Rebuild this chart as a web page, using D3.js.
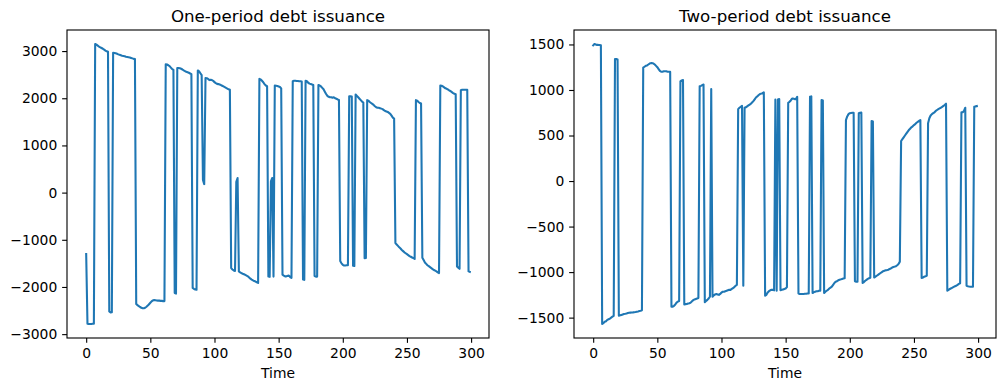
<!DOCTYPE html>
<html><head><meta charset="utf-8">
<script src="https://cdn.jsdelivr.net/npm/d3@7"></script>
<style>
body{margin:0;background:#fff}
svg{display:block}
text{font-family:"DejaVu Sans",sans-serif;fill:#000}
</style>
</head><body>
<svg id="chart" width="1006" height="391"></svg>
<script>
const oneTitle = "One-period debt issuance";
const twoTitle = "Two-period debt issuance";
const xLabel = "Time";

const oneperiod = [
-1300,
-2780,-2785,-2785,-2785,-2780,-2780,
3150,3135,3115,3095,3080,3065,3050,3030,3010,2995,2985,
-2520,-2540,-2535,
2965,2960,2955,2945,2930,2920,2910,2900,2895,2890,2880,2875,2870,2865,2855,2845,2835,2830,
-2360,-2385,-2405,-2425,-2440,-2450,-2450,-2440,-2420,-2395,-2365,-2335,-2305,-2285,-2275,-2280,-2285,-2290,-2290,-2295,-2295,-2300,-2300,
2720,2715,2700,2680,2650,2620,2600,
-2130,-2140,
2640,2640,2635,2625,2610,2590,2575,2560,2550,2540,2525,2510,
-2020,-2040,-2055,-2060,
2590,2570,2530,2490,
270,180,
2430,2425,2410,2385,2390,2385,2370,2340,2320,2305,2300,2290,2280,2265,2250,2235,2220,2205,2190,2180,
-1600,-1630,-1650,-1660,
230,310,
-1670,-1690,-1705,-1720,-1730,-1745,-1760,-1775,-1800,-1825,-1845,-1860,-1875,-1885,-1900,-1915,
2410,2400,2370,2340,2300,2270,2255,
-1780,-1785,
240,310,
-1780,
2270,2265,2260,2250,2240,2210,
-1740,-1760,-1775,-1775,-1765,-1760,-1790,-1810,
2360,2370,2370,2365,2365,2360,2360,2355,
-1840,-1850,
2370,2360,2330,2310,2300,2290,2280,
-1770,-1780,-1780,
2280,2270,2250,2220,2190,2140,2090,2050,2030,2020,2020,2010,2020,2000,1990,1975,1965,
-1450,-1500,-1530,-1545,-1545,-1540,-1540,
2040,2040,2035,
-1550,-1555,
2080,2050,2020,1990,1960,1930,1910,
-1390,-1385,
1960,1950,1920,1900,1880,1860,1830,1810,1800,1800,1790,1780,1770,1750,1730,1720,1710,1690,1670,1630,1590,1570,
-1070,-1100,-1130,-1160,-1185,-1215,-1240,-1265,-1285,-1305,-1325,-1345,-1360,-1375,-1390,-1405,
1960,1950,1920,1900,1890,
-1380,-1430,-1480,-1510,-1540,-1560,-1580,-1600,-1620,-1640,-1655,-1670,-1690,-1705,
2270,2265,2250,2230,2210,2200,2185,2165,2150,2130,2110,2095,2085,
-1565,-1590,-1615,
2170,2180,2180,2180,2180,2180,
-1670,-1680
];

const twoperiod = [
1490,1505,1500,1495,1495,1493,1490,
-1570,-1560,-1545,-1540,-1525,-1518,-1510,-1500,-1490,-1480,
1340,1340,1335,
-1480,-1475,-1470,-1465,-1460,-1458,-1455,-1450,-1447,-1445,-1443,-1442,-1440,-1438,-1435,-1432,-1428,-1425,-1420,
1245,1255,1265,1270,1280,1290,1295,1295,1290,1280,1265,1250,1230,1210,1200,1200,1205,1205,1205,1200,1200,1200,
-1380,-1380,-1370,-1355,-1335,-1325,-1318,
1095,1105,1110,
-1355,-1352,-1350,-1345,-1342,-1335,-1320,-1308,-1300,-1295,-1290,-1285,
1040,1045,1053,1060,
-1330,-1318,-1305,-1290,-1270,
1010,
-1270,-1255,-1245,-1240,-1245,-1250,-1240,-1225,-1215,-1215,-1210,-1205,-1200,-1195,-1195,-1185,-1175,-1165,-1150,-1140,
790,805,815,825,
-1150,
805,810,820,830,840,850,865,880,900,920,930,945,955,960,965,975,
-1260,-1250,-1225,-1210,-1200,-1195,-1195,-1200,
895,
-1205,
895,900,
-1200,-1195,-1190,-1185,-1180,-1165,
860,870,885,905,905,900,900,925,
-1235,-1240,-1240,-1240,-1240,-1238,-1238,-1235,-1235,
925,930,
-1230,-1220,-1215,-1210,-1210,-1205,-1205,
890,885,
-1230,-1215,-1205,-1195,-1180,-1170,-1160,-1140,-1120,-1105,-1100,-1090,-1085,-1080,-1075,-1070,-1068,
670,710,735,745,748,750,750,
-1100,-1105,-1105,
745,750,752,
-1120,-1110,-1095,-1085,-1075,-1068,-1062,
660,655,
-1060,-1050,-1040,-1030,-1020,-1010,-1000,-990,-985,-980,-978,-975,-965,-960,-950,-945,-940,-935,-925,-910,-885,
440,460,480,500,520,540,560,575,590,600,615,625,640,650,660,670,
-1065,-1060,-1050,-1045,-1040,
635,690,720,735,745,755,770,780,790,798,805,815,825,835,850,
-1205,-1195,-1185,-1178,-1170,-1162,-1155,-1150,-1140,-1130,-1123,
755,755,770,805,
-1150,-1155,-1158,-1160,-1160,-1160,
815,820,823
];

const xTicks = [0, 50, 100, 150, 200, 250, 300];
const oneYTicks = [-3000, -2000, -1000, 0, 1000, 2000, 3000];
const twoYTicks = [-1500, -1000, -500, 0, 500, 1000, 1500];

const svg = d3.select("#chart");
const PT = 100 / 72;
const plotTop = 30, plotH = 308, plotW = 422;
const tickLen = 3.5 * PT, tickPad = 3.5 * PT;
const fmt = d3.format("d");

function drawPanel(data, yTicks, title, left) {
  const g = svg.append("g");
  const n = data.length;
  const xMin = 0, xMax = n - 1, xPad = (xMax - xMin) * 0.05;
  const x = d3.scaleLinear().domain([xMin - xPad, xMax + xPad]).range([left, left + plotW]);
  const [mn, mx] = d3.extent(data);
  const yPad = (mx - mn) * 0.05;
  const y = d3.scaleLinear().domain([mn - yPad, mx + yPad]).range([plotTop + plotH, plotTop]);

  const line = d3.line().x((d, i) => x(i)).y(d => y(d));
  g.append("path").datum(data)
    .attr("d", line)
    .attr("fill", "none")
    .attr("stroke", "#1f77b4")
    .attr("stroke-width", 1.5 * PT)
    .attr("stroke-linejoin", "round")
    .attr("stroke-linecap", "square");

  const xAxis = d3.axisBottom(x).tickValues(xTicks).tickFormat(fmt)
    .tickSize(tickLen).tickPadding(tickPad).tickSizeOuter(0);
  const xg = g.append("g").attr("transform", `translate(0,${plotTop + plotH})`).call(xAxis);
  xg.select(".domain").remove();
  xg.selectAll("line").attr("stroke", "#000").attr("stroke-width", 0.8 * PT);
  xg.selectAll("text").attr("font-size", 10 * PT).attr("font-family", "DejaVu Sans").attr("fill", "#000");

  const yAxis = d3.axisLeft(y).tickValues(yTicks).tickFormat(fmt)
    .tickSize(tickLen).tickPadding(tickPad).tickSizeOuter(0);
  const yg = g.append("g").attr("transform", `translate(${left},0)`).call(yAxis);
  yg.select(".domain").remove();
  yg.selectAll("line").attr("stroke", "#000").attr("stroke-width", 0.8 * PT);
  yg.selectAll("text").attr("font-size", 10 * PT).attr("font-family", "DejaVu Sans").attr("fill", "#000");

  g.append("rect")
    .attr("x", left).attr("y", plotTop).attr("width", plotW).attr("height", plotH)
    .attr("fill", "none").attr("stroke", "#000").attr("stroke-width", 0.8 * PT);

  g.append("text")
    .attr("x", left + plotW / 2).attr("y", plotTop - 6 * PT)
    .attr("text-anchor", "middle")
    .attr("font-size", 12 * PT)
    .text(title);

  g.append("text")
    .attr("x", left + plotW / 2).attr("y", 378)
    .attr("text-anchor", "middle")
    .attr("font-size", 10 * PT)
    .text(xLabel);
}

drawPanel(oneperiod, oneYTicks, oneTitle, 67);
drawPanel(twoperiod, twoYTicks, twoTitle, 574);
</script>
</body></html>
